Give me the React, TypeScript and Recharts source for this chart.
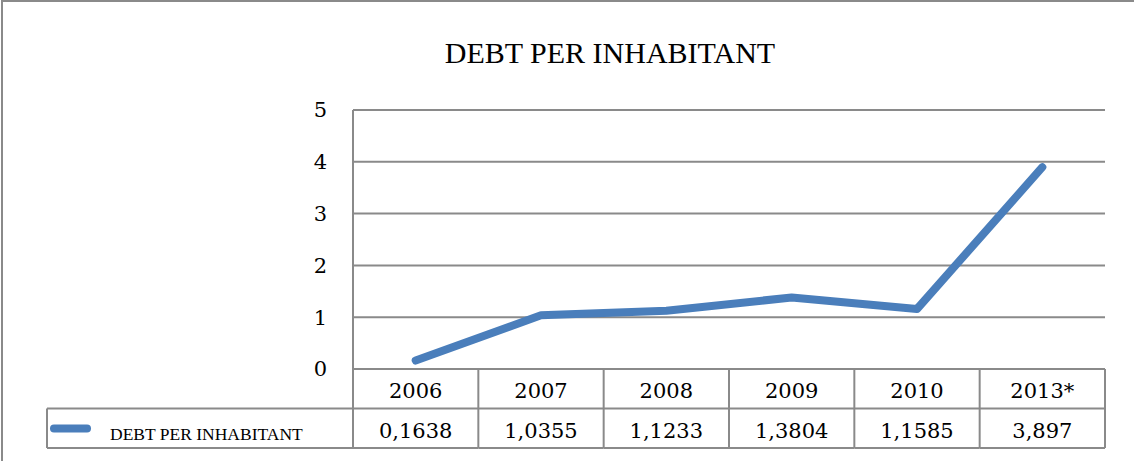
import { LineChart, Line, XAxis, YAxis, CartesianGrid } from 'recharts';

const YEARS = ['2006', '2007', '2008', '2009', '2010', '2013*'];
const DEBT = [0.1638, 1.0355, 1.1233, 1.3804, 1.1585, 3.897];
const DEBT_LABELS = ['0,1638', '1,0355', '1,1233', '1,3804', '1,1585', '3,897'];
const Y_TICKS = [0, 1, 2, 3, 4, 5];
const SERIES_NAME = 'DEBT PER INHABITANT';

const data = YEARS.map((year, i) => ({ year, debt: DEBT[i], label: DEBT_LABELS[i] }));

const W = 1134;
const H = 461;
const PLOT_LEFT = 353;
const PLOT_RIGHT = 1105;
const PLOT_TOP = 110;
const PLOT_BOTTOM = 369;
const ROW_H = 39.5;
const LEGEND_LEFT = 47;
const FONT = "'Liberation Serif', 'DejaVu Serif', serif";
const NUM_FONT = "'DejaVu Serif', 'Liberation Serif', serif";
const GRID = '#8a8a8a';
const LINE = '#4a7ebb';

const cellW = (PLOT_RIGHT - PLOT_LEFT) / YEARS.length;

const numStyle = { fontSize: 21, fontFamily: NUM_FONT, fill: '#000' };

function TableTick(props: any) {
  const { x, payload, index } = props;
  const left = x - cellW / 2;
  const right = x + cellW / 2;
  const r1 = PLOT_BOTTOM;
  const r2 = PLOT_BOTTOM + ROW_H;
  const r3 = PLOT_BOTTOM + ROW_H * 2;
  return (
    <g>
      <line x1={right} y1={r1} x2={right} y2={r3} stroke={GRID} strokeWidth={2} />
      <line x1={left} y1={r2} x2={right} y2={r2} stroke={GRID} strokeWidth={2} />
      <line x1={left} y1={r3} x2={right} y2={r3} stroke={GRID} strokeWidth={2} />
      <text x={x} y={r1 + 29} textAnchor="middle" {...numStyle}>
        {payload.value}
      </text>
      <text x={x} y={r2 + 29} textAnchor="middle" {...numStyle}>
        {data[index]?.label}
      </text>
      {index === 0 ? (
        <g>
          <line x1={left} y1={PLOT_TOP} x2={left} y2={r3} stroke={GRID} strokeWidth={2} />
          <line x1={LEGEND_LEFT} y1={r2} x2={left} y2={r2} stroke={GRID} strokeWidth={2} />
          <line x1={LEGEND_LEFT} y1={r3} x2={left} y2={r3} stroke={GRID} strokeWidth={2} />
          <line x1={LEGEND_LEFT} y1={r2} x2={LEGEND_LEFT} y2={r3} stroke={GRID} strokeWidth={2} />
          <line x1={54} y1={r2 + 20} x2={87} y2={r2 + 20} stroke={LINE} strokeWidth={8} strokeLinecap="round" />
          <text x={110} y={r2 + 31} fontSize={17.5} fontFamily={FONT} fill="#000">
            {SERIES_NAME}
          </text>
        </g>
      ) : null}
    </g>
  );
}

export default function App() {
  return (
    <div style={{ position: 'absolute', left: 0, top: 0, width: W, height: H, background: '#fff' }}>
      <LineChart
        width={W}
        height={H}
        data={data}
        margin={{ top: PLOT_TOP, right: W - PLOT_RIGHT, bottom: 0, left: 0 }}
      >
        <rect x={2} y={1} width={W + 10} height={H + 10} fill="none" stroke={GRID} strokeWidth={2} />
        <text x={610} y={63} textAnchor="middle" fontSize={30} fontFamily={FONT} fill="#000">
          {SERIES_NAME}
        </text>
        <CartesianGrid vertical={false} stroke={GRID} strokeWidth={2} />
        <XAxis
          dataKey="year"
          scale="band"
          axisLine={false}
          tickLine={false}
          interval={0}
          height={H - PLOT_BOTTOM}
          tick={TableTick}
        />
        <YAxis
          domain={[0, 5]}
          ticks={Y_TICKS}
          width={PLOT_LEFT}
          axisLine={false}
          tickLine={false}
          tickSize={0}
          tickMargin={26}
          tick={{ ...numStyle }}
        />
        <Line
          type="linear"
          dataKey="debt"
          stroke={LINE}
          strokeWidth={8}
          strokeLinecap="round"
          strokeLinejoin="round"
          dot={false}
          isAnimationActive={false}
        />
      </LineChart>
    </div>
  );
}
